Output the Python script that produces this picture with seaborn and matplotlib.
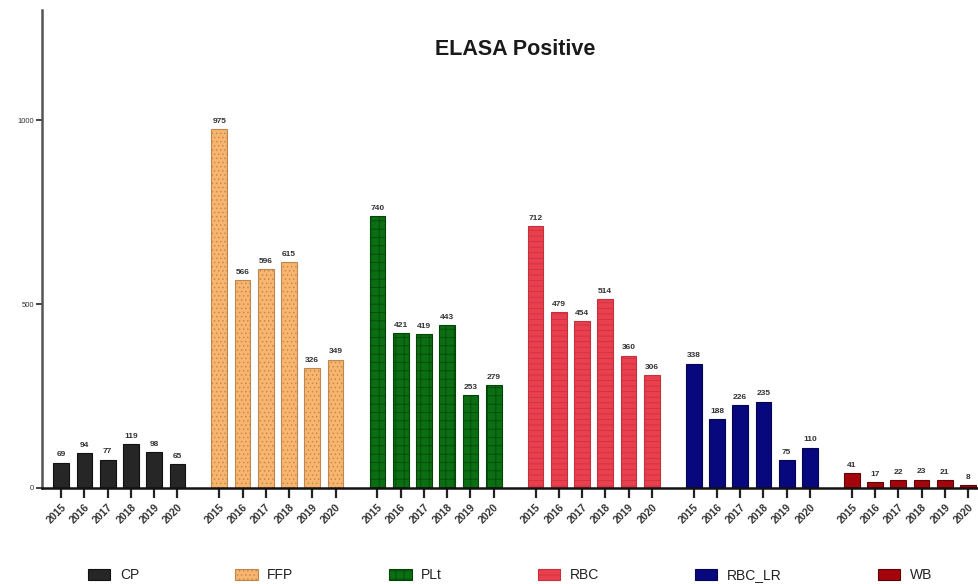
import matplotlib
matplotlib.use("Agg")
import matplotlib.pyplot as plt
import numpy as np
import pandas as pd
import seaborn as sns

YEARS = ["2015", "2016", "2017", "2018", "2019", "2020"]
PRODUCTS = ["CP", "FFP", "PLt", "RBC", "RBC_LR", "WB"]

CP = [69, 94, 77, 119, 98, 65]
FFP = [975, 566, 596, 615, 326, 349]
PLT = [740, 421, 419, 443, 253, 279]
RBC = [712, 479, 454, 514, 360, 306]
RBC_LR = [338, 188, 226, 235, 75, 110]
WB = [41, 17, 22, 23, 21, 8]

Y_TICKS = [0, 500, 1000]

COLORS = {
    "CP": "#262626",
    "FFP": "#f7b56e",
    "PLt": "#0b6e12",
    "RBC": "#ea3f4e",
    "RBC_LR": "#07077e",
    "WB": "#a3050c",
}
EDGES = {
    "CP": "#111111",
    "FFP": "#c08650",
    "PLt": "#034407",
    "RBC": "#c4303c",
    "RBC_LR": "#050550",
    "WB": "#5e0206",
}
HATCHES = {"CP": "", "FFP": "....", "PLt": "++", "RBC": "---", "RBC_LR": "", "WB": ""}

GROUP_STEP = 6.8  # 6 bars + wider gap between products

DPI = 100
FIGSIZE = (979 / DPI, 584 / DPI)

values = [CP, FFP, PLT, RBC, RBC_LR, WB]
rows = []
for g, (prod, vals) in enumerate(zip(PRODUCTS, values)):
    for i, (yr, v) in enumerate(zip(YEARS, vals)):
        rows.append({"pos": g * GROUP_STEP + i, "year": yr, "product": prod, "count": v})
df = pd.DataFrame(rows)

sns.set_style("white")
plt.rcParams["font.family"] = ["Liberation Sans", "DejaVu Sans"]
plt.rcParams["hatch.linewidth"] = 0.5

fig = plt.figure(figsize=FIGSIZE, dpi=DPI)
ax = fig.add_axes([0.043, 0.1644, 0.957, 0.819])

sns.barplot(
    data=df,
    x="pos",
    y="count",
    hue="product",
    hue_order=PRODUCTS,
    palette=COLORS,
    saturation=1,
    native_scale=True,
    dodge=False,
    width=0.68,
    linewidth=0.8,
    legend=False,
    ax=ax,
)

for prod, cont in zip(PRODUCTS, ax.containers):
    for bar in cont:
        bar.set_edgecolor(EDGES[prod])
        bar.set_hatch(HATCHES[prod])
    ax.bar_label(cont, padding=3, fontsize=6, fontweight="bold", color="#333333")

ax.set_xlim(-0.82, 5 * GROUP_STEP + 5 + 0.47)
ax.set_ylim(0, 1300)
ax.set_xticks(df["pos"])
ax.set_xticklabels(df["year"], rotation=45, ha="right", rotation_mode="anchor",
                   fontsize=7.5, fontweight="bold", color="#333333")
ax.set_yticks(Y_TICKS)
ax.set_yticklabels([str(t) for t in Y_TICKS], fontsize=5.5, color="#333333")
ax.tick_params(axis="x", which="both", bottom=True, length=7, width=1.6,
               color="#222222", pad=3)
ax.tick_params(axis="y", which="both", left=True, length=4, width=1.2,
               color="#222222", pad=2)
ax.set_xlabel("")
ax.set_ylabel("")

sns.despine(ax=ax, top=True, right=True)
ax.spines["left"].set_color("#555555")
ax.spines["left"].set_linewidth(1.8)
ax.spines["bottom"].set_color("#111111")
ax.spines["bottom"].set_linewidth(1.8)

fig.text(0.526, 0.915, "ELASA Positive", ha="center", va="center",
         fontsize=15.5, fontweight="bold", color="#1a1a1a")

handles = [
    plt.Rectangle((0, 0), 1, 1, facecolor=COLORS[p], edgecolor=EDGES[p],
                  hatch=HATCHES[p], linewidth=0.8)
    for p in PRODUCTS
]
fig.legend(handles, PRODUCTS, loc="center", bbox_to_anchor=(0.521, 0.015),
           ncol=6, frameon=False, fontsize=10, handlelength=1.6, handleheight=0.9,
           handletextpad=0.7, columnspacing=6.9, labelcolor="#222222")

fig.savefig("out.png", dpi=DPI)
